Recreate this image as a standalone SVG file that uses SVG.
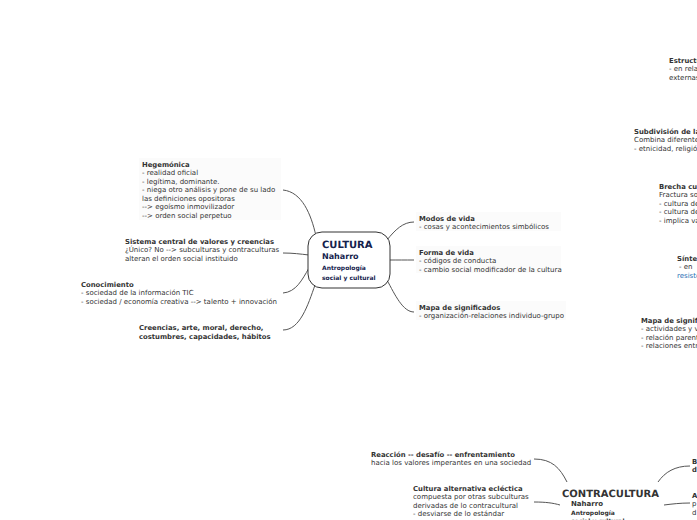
<svg xmlns="http://www.w3.org/2000/svg" width="697" height="520" viewBox="0 0 697 520">
<style>
text{font-family:"DejaVu Sans",Verdana,sans-serif;font-size:7px;fill:#333;text-rendering:geometricPrecision}
.b{font-weight:bold;font-size:6.85px}
.bg{fill:#fbfbfb;stroke:none}
.c{fill:none;stroke:#555;stroke-width:1}
.t{fill:#14224d;font-weight:bold}
.blue{fill:#2a6fb5}
</style>
<rect width="697" height="520" fill="#fff"/>
<g id="connectors">
<path class="c" d="M316 236 C311 214 302 192 283 190"/>
<path class="c" d="M309 255 C300 254 293 253 283 253"/>
<path class="c" d="M309 268 C302 280 296 292 283 293"/>
<path class="c" d="M315 285 C308 305 300 330 283 330"/>
<path class="c" d="M387 240 C395 230 403 222 414 222"/>
<path class="c" d="M390 260 C398 260 405 260 414 260"/>
<path class="c" d="M387 280 C395 295 403 312 414 312"/>
<path class="c" d="M567 482 C560 468 552 459 534 459"/>
<path class="c" d="M560 505 C553 503 546 502 534 502"/>
<path class="c" d="M658 482 C665 472 675 466 690 466"/>
<path class="c" d="M664 505 C672 504 680 503 690 503"/>
</g>
<g id="cultura">
<rect x="308" y="232" width="82" height="56" rx="14" ry="14" fill="#fff" stroke="#333" stroke-width="1"/>
<text x="322" y="248" class="t" style="font-size:10px">CULTURA</text>
<text x="322" y="259" class="t" style="font-size:8px">Naharro</text>
<text x="322" y="270" class="t" style="font-size:6px">Antropología</text>
<text x="322" y="280" class="t" style="font-size:6px">social y cultural</text>
</g>
<g id="hegemonica">
<rect class="bg" x="139" y="158" width="142" height="62"/>
<text x="142" y="166.5" class="b">Hegemónica</text>
<text x="142" y="175">- realidad oficial</text>
<text x="142" y="183.5">- legítima, dominante.</text>
<text x="142" y="192">- niega otro análisis y pone de su lado</text>
<text x="142" y="200.5">las definiciones opositoras</text>
<text x="142" y="209">--&gt; egoísmo inmovilizador</text>
<text x="142" y="217.5">--&gt; orden social perpetuo</text>
</g>
<g id="sistema">
<text x="125" y="243.5" class="b">Sistema central de valores y creencias</text>
<text x="125" y="252">¿Único? No --&gt; subculturas y contraculturas</text>
<text x="125" y="260.5">alteran el orden social instituido</text>
</g>
<g id="conocimiento">
<text x="81" y="286.5" class="b">Conocimiento</text>
<text x="81" y="295">- sociedad de la información TIC</text>
<text x="81" y="303.5">- sociedad / economía creativa --&gt; talento + innovación</text>
</g>
<g id="creencias">
<text x="139" y="329.5" class="b">Creencias, arte, moral, derecho,</text>
<text x="139" y="338.5" class="b">costumbres, capacidades, hábitos</text>
</g>
<g id="modos">
<rect class="bg" x="416" y="212" width="145" height="19"/>
<text x="419" y="220.5" class="b">Modos de vida</text>
<text x="419" y="229">- cosas y acontecimientos simbólicos</text>
</g>
<g id="forma">
<rect class="bg" x="416" y="246" width="145" height="27"/>
<text x="419" y="254.5" class="b">Forma de vida</text>
<text x="419" y="263">- códigos de conducta</text>
<text x="419" y="271.5">- cambio social modificador de la cultura</text>
</g>
<g id="mapa">
<rect class="bg" x="416" y="301" width="150" height="19"/>
<text x="419" y="309.5" class="b">Mapa de significados</text>
<text x="419" y="318">- organización-relaciones individuo-grupo</text>
</g>
<g id="estructura">
<text x="669" y="62.5" class="b">Estructura</text>
<text x="669" y="71">- en relación</text>
<text x="669" y="79.5">externas</text>
</g>
<g id="subdivision">
<text x="634" y="133.5" class="b">Subdivisión de la</text>
<text x="634" y="142">Combina diferentes</text>
<text x="634" y="150.5">- etnicidad, religión</text>
</g>
<g id="brecha">
<text x="659" y="188.5" class="b">Brecha cultural</text>
<text x="659" y="197">Fractura social</text>
<text x="659" y="205.5">- cultura de</text>
<text x="659" y="214">- cultura de</text>
<text x="659" y="222.5">- implica valores</text>
</g>
<g id="sintesis">
<text x="677" y="260.5" class="b">Síntesis</text>
<text x="679" y="269">- en</text>
<text x="677" y="277.5" class="blue">resistencia</text>
</g>
<g id="mapa2">
<text x="641" y="322.5" class="b">Mapa de significados</text>
<text x="641" y="331">- actividades y valores</text>
<text x="641" y="339.5">- relación parentesco</text>
<text x="641" y="348">- relaciones entre</text>
</g>
<g id="contracultura">
<text x="562" y="497" style="font-size:10px;font-weight:bold;fill:#333">CONTRACULTURA</text>
<text x="571" y="506" class="b" style="font-size:7px">Naharro</text>
<text x="571" y="514.5" class="b" style="font-size:6px">Antropología</text>
<text x="571" y="523" class="b" style="font-size:6px">social y cultural</text>
</g>
<g id="reaccion">
<text x="371" y="456.5" class="b">Reacción -- desafío -- enfrentamiento</text>
<text x="371" y="465">hacia los valores imperantes en una sociedad</text>
</g>
<g id="alternativa">
<text x="413" y="490.5" class="b">Cultura alternativa ecléctica</text>
<text x="413" y="499">compuesta por otras subculturas</text>
<text x="413" y="507.5">derivadas de lo contracultural</text>
<text x="413" y="516">- desviarse de lo estándar</text>
</g>
<g id="nodeB">
<text x="692" y="463.5" class="b">B</text>
<text x="692" y="472" class="b">d</text>
</g>
<g id="nodeA">
<text x="692" y="497.5" class="b">A</text>
<text x="692" y="506">p</text>
<text x="692" y="514.5">d</text>
</g>
</svg>
